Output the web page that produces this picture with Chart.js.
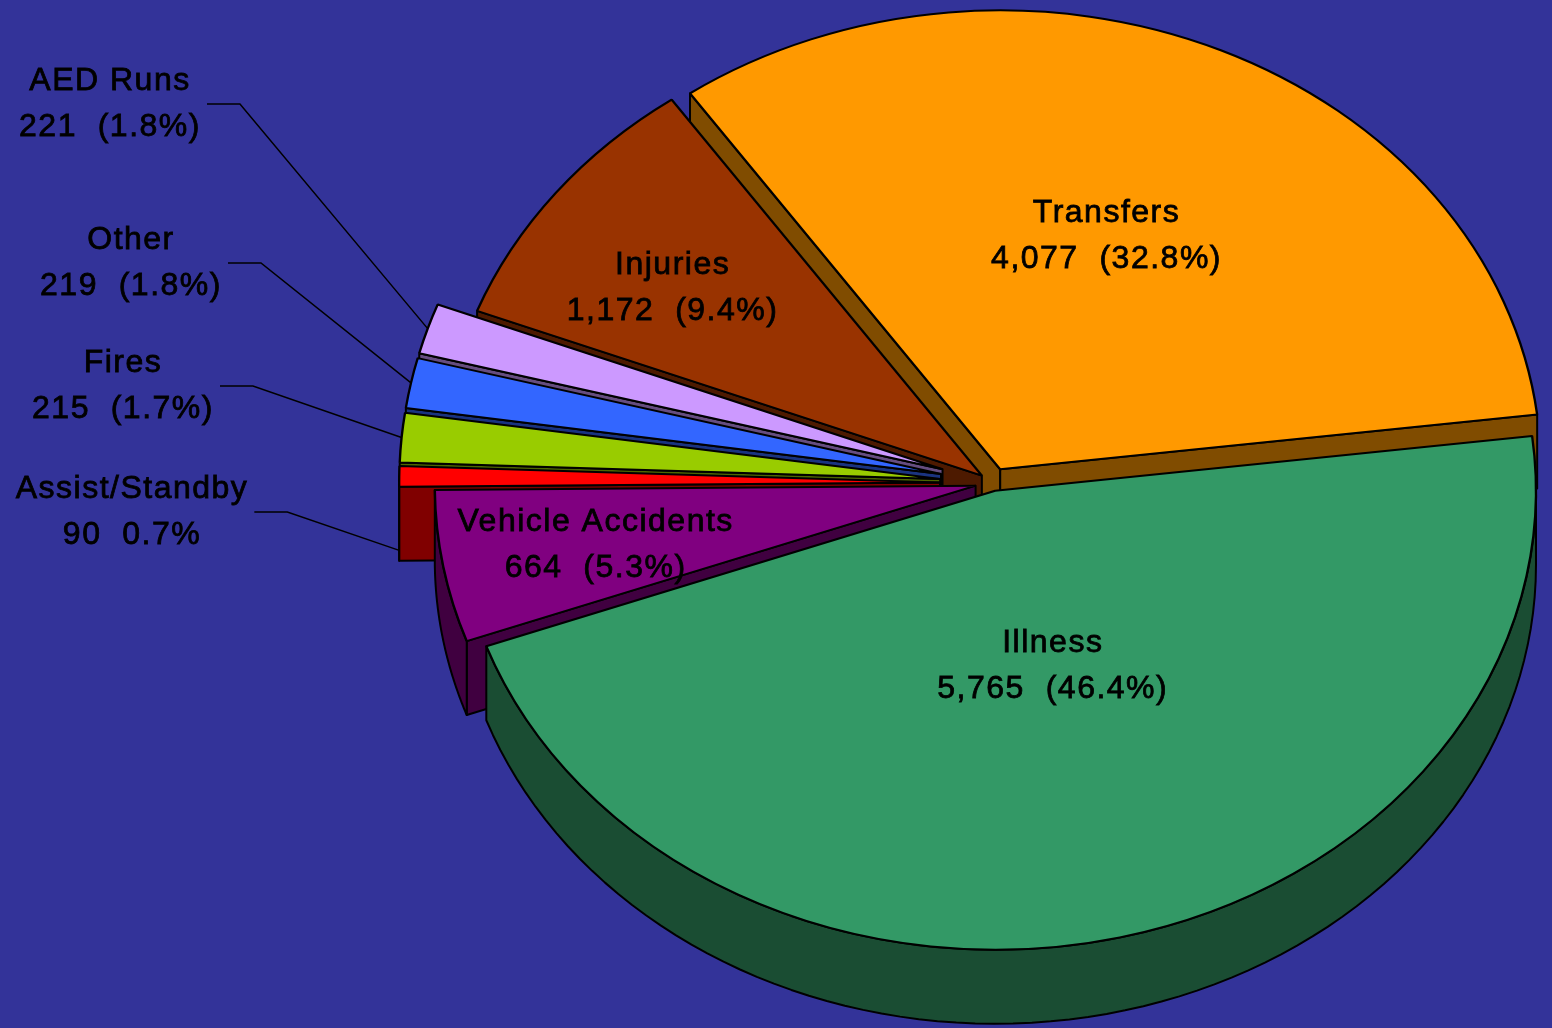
<!DOCTYPE html>
<html>
<head>
<meta charset="utf-8">
<script src="https://cdn.jsdelivr.net/npm/chart.js@4.4.0/dist/chart.umd.min.js"></script>
<style>
  html, body { margin: 0; padding: 0; background: #333399; overflow: hidden; }
</style>
</head>
<body>
<canvas id="callsPie" width="1552" height="1028"></canvas>
<script>
// datos (orden horario empezando por Transfers)
const categories = ['Transfers', 'Illness', 'Vehicle Accidents', 'Assist/Standby', 'Fires', 'Other', 'AED Runs', 'Injuries'];
const calls = [4077, 5765, 664, 90, 215, 219, 221, 1172];
const showParens = [true, true, true, false, true, true, true, true];

// estilo
const sliceColors = ['#FF9900', '#339966', '#800080', '#FF0000', '#99CC00', '#3366FF', '#CC99FF', '#993300'];
const sideColors = ['#804C00', '#1A4D33', '#400040', '#800000', '#4D6600', '#1A3380', '#664D80', '#4D1A00'];
const explode = [15, 8, 15, 45, 45, 45, 45, 12];
const insideR = [0.55, 0.39, 0.71, null, null, null, null, 0.70];     // etiquetas dentro del sector
const labelNudge = [[-15, -3], [9, 1], [-2, 2], null, null, null, null, [-11, 10]];
const outsidePos = [null, null, null, [132, 512], [123, 386], [131, 263], [110, 104], null]; // etiquetas a la izquierda
const leaderDrop = [0, 0, 0, 1, 0, 0, 0, 0];

const total = calls.reduce((a, b) => a + b, 0);
const ASPECT = 542 / 460;   // elipse de la cara superior
const DEPTH = 74;           // grosor del pastel

function geo(arc, i) {
    const p = arc.getProps(['x', 'y', 'startAngle', 'endAngle', 'outerRadius']);
    const m = (p.startAngle + p.endAngle) / 2;
    const ox = p.x + explode[i] * Math.cos(m) * ASPECT;
    const oy = p.y + explode[i] * Math.sin(m);
    const R = p.outerRadius;
    const pt = (t, r = R, dz = 0) => [ox + r * Math.cos(t) * ASPECT, oy + r * Math.sin(t) + dz];
    return { x: p.x, y: p.y, startAngle: p.startAngle, endAngle: p.endAngle, m, ox, oy, R, pt };
}

function poly(ctx, pts) {
    ctx.beginPath();
    ctx.moveTo(pts[0][0], pts[0][1]);
    for (let k = 1; k < pts.length; k++) ctx.lineTo(pts[k][0], pts[k][1]);
    ctx.closePath();
    ctx.fill();
    ctx.stroke();
}

function drawSlice(ctx, arc, i) {
    const g = geo(arc, i);
    ctx.save();
    ctx.lineWidth = 2;
    ctx.strokeStyle = '#000';
    ctx.lineJoin = 'round';
    ctx.fillStyle = sideColors[i];
    const V = [g.ox, g.oy];
    const face = (t) => {
        const r0 = g.pt(t);
        poly(ctx, [V, r0, [r0[0], r0[1] + DEPTH], [V[0], V[1] + DEPTH]]);
    };
    if (Math.cos(g.startAngle) < 0) face(g.startAngle);
    if (Math.cos(g.endAngle) > 0) face(g.endAngle);
    // pared exterior (solo la mitad delantera)
    const s = Math.max(g.startAngle, 0), e = Math.min(g.endAngle, Math.PI);
    if (e > s) {
        const pts = [];
        const n = 80;
        for (let k = 0; k <= n; k++) pts.push(g.pt(s + (e - s) * k / n));
        for (let k = n; k >= 0; k--) pts.push(g.pt(s + (e - s) * k / n, g.R, DEPTH));
        poly(ctx, pts);
    }
    // cara superior dibujada por Chart.js
    ctx.translate(g.ox, g.oy);
    ctx.scale(ASPECT, 1);
    ctx.translate(-g.x, -g.y);
    arc.draw(ctx);
    ctx.restore();
}

const pie3d = {
    id: 'pie3d',
    beforeDatasetsDraw(chart) {
        const ctx = chart.ctx;
        const arcs = chart.getDatasetMeta(0).data;
        const mids = arcs.map(a => (a.startAngle + a.endAngle) / 2);
        const order = arcs.map((a, i) => i).sort((i, j) => Math.sin(mids[i]) - Math.sin(mids[j]));
        order.forEach(i => drawSlice(ctx, arcs[i], i));
        return false;
    },
    afterDraw(chart) {
        const ctx = chart.ctx;
        const arcs = chart.getDatasetMeta(0).data;
        ctx.save();
        ctx.font = '32px "Liberation Sans", Arial, sans-serif';
        ctx.letterSpacing = '1.5px';
        ctx.fillStyle = '#000';
        ctx.strokeStyle = '#000';
        ctx.textAlign = 'center';
        ctx.textBaseline = 'middle';
        const txt = (s, x, y) => {
            ctx.lineWidth = 0.8;
            ctx.fillText(s, x, y);
            ctx.strokeText(s, x, y);
        };
        arcs.forEach((arc, i) => {
            const g = geo(arc, i);
            const pct = (calls[i] / total * 100).toFixed(1) + '%';
            const line2 = calls[i].toLocaleString('en-US') + '  ' + (showParens[i] ? '(' + pct + ')' : pct);
            let cx, cy;
            if (insideR[i] != null) {
                [cx, cy] = g.pt(g.m, g.R * insideR[i]);
                cx += labelNudge[i][0];
                cy += labelNudge[i][1];
            } else {
                [cx, cy] = outsidePos[i];
            }
            txt(categories[i], cx, cy - 23);
            txt(line2, cx, cy + 23);
            if (insideR[i] == null) {
                const w = Math.max(ctx.measureText(categories[i]).width, ctx.measureText(line2).width);
                const x0 = cx + w / 2 + 6;
                const end = g.pt(g.m, g.R, leaderDrop[i] * DEPTH);
                ctx.lineWidth = 1.5;
                ctx.beginPath();
                ctx.moveTo(x0, cy);
                ctx.lineTo(x0 + 33, cy);
                ctx.lineTo(end[0], end[1]);
                ctx.stroke();
            }
        });
        ctx.restore();
    }
};

new Chart(document.getElementById('callsPie'), {
    type: 'pie',
    data: {
        labels: categories,
        datasets: [{
            data: calls,
            backgroundColor: sliceColors,
            borderColor: '#000',
            borderWidth: 2,
            offset: 0,
            hoverOffset: 0
        }]
    },
    options: {
        responsive: false,
        animation: false,
        events: [],
        rotation: -35,
        layout: { padding: { top: 23, bottom: 85, left: 533, right: 99 } },
        plugins: {
            legend: { display: false },
            tooltip: { enabled: false }
        }
    },
    plugins: [pie3d]
});
</script>
</body>
</html>
